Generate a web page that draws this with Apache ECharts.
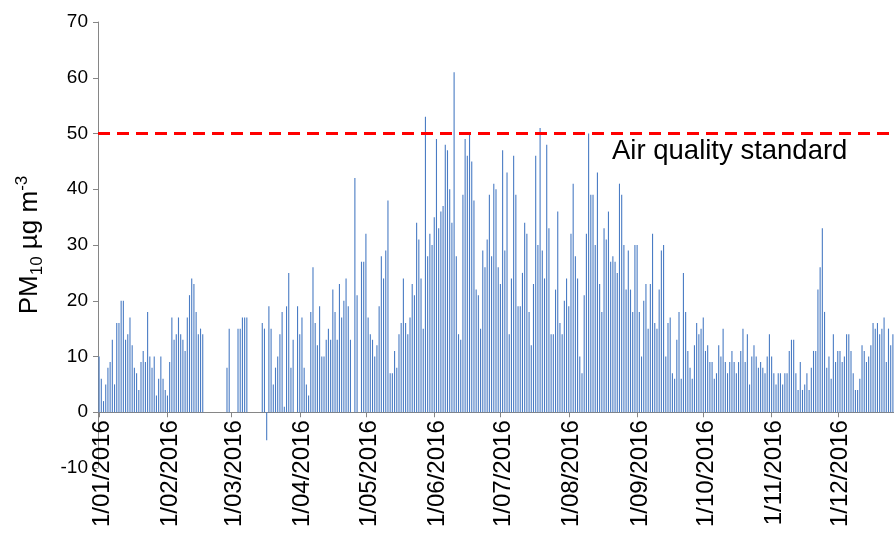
<!DOCTYPE html>
<html>
<head>
<meta charset="utf-8">
<script src="https://cdn.jsdelivr.net/npm/echarts@6/dist/echarts.min.js"></script>
<style>
  html, body { margin: 0; padding: 0; background: #fff; }
  #main { width: 894px; height: 534px; }
</style>
</head>
<body>
<div id="main"></div>
<script>
// daily PM10 (ug/m3), 2016, null = no data
var jan = [10, 6, 2, 5, 8, 9, 13, 5, 16, 16, 20, 20, 13, 14, 17, 12, 8, 7, 4, 9, 11, 9, 18, 10, 8, 10, 3, 6, 10, 6, 4];
var feb = [3, 9, 17, 13, 14, 17, 14, 13, 11, 17, 21, 24, 23, 18, 14, 15, 14,
  null, null, null, null, null, null, null, null, null, null, 8, 15];
var mar = [null, null, null, 15, 15, 17, 17, 17, null, null, null, null, null, null,
  16, 15, -5, 19, 15, 5, 8, 10, 14, 18, 1, 19, 25, 8, 13, null, 19];
var apr = [14, 17, 8, 5, 3, 18, 26, 16, 12, 19, 10, 10, 13, 15, 13, 22, 18, 13, 23, 17,
  20, 24, 19, 13, null, 42, 21, null, 27, 27];
var may = [32, 17, 14, 13, 10, 12, 19, 28, 24, 29, 38, 7, 7, 11, 8, 14, 16, 24, 16, 14,
  17, 23, 21, 34, 31, 24, 15, 53, 28, 32, 30];
var jun = [35, 49, 33, 36, 37, 48, 47, 40, 34, 61, 28, 14, 13, 39, 49, 46, 50, 45, 38, 22,
  21, 15, 29, 26, 31, 39, 28, 41, 40, 26];
var jul = [23, 47, 29, 43, 14, 24, 46, 39, 19, 19, 25, 34, 32, 18, 12, 23, 46, 30, 51, 29,
  24, 48, 33, 14, 14, 22, 36, 16, 14, 20, 24];
var aug = [19, 32, 41, 28, 24, 10, 7, 21, 32, 50, 39, 39, 30, 43, 23, 18, 33, 31, 36, 27,
  28, 27, 25, 41, 39, 30, 22, 29, 22, 18, 30];
var sep = [30, 18, 10, 20, 23, 15, 23, 32, 16, 15, 22, 29, 30, 10, 16, 17, 7, 6, 13, 18,
  6, 25, 18, 11, 8, 6, 12, 16, 14, 15];
var oct = [17, 11, 12, 9, 9, 6, 7, 12, 10, 15, 9, 7, 9, 11, 9, 7, 9, 11, 15, 9,
  14, 5, 10, 12, 10, 8, 9, 8, 7, 10, 14];
var nov = [10, 7, 5, 7, 7, 5, 7, 7, 11, 13, 13, 7, 4, 9, 4, 5, 7, 4, 8, 11,
  11, 22, 26, 33, 18, 8, 10, 6, 14, 9];
// December is cut off at the right edge of the picture
var dec = [11, 11, 9, 10, 14, 14, 11, 7, 4, 4, 6, 12, 11, 9, 10, 12, 16, 15, 16, 14,
  15, 17, 9, 15, 12, 14];

var months = [jan, feb, mar, apr, may, jun, jul, aug, sep, oct, nov, dec];
var monthLabels = ['1/01/2016', '1/02/2016', '1/03/2016', '1/04/2016', '1/05/2016', '1/06/2016',
  '1/07/2016', '1/08/2016', '1/09/2016', '1/10/2016', '1/11/2016', '1/12/2016'];
var yTicks = [-10, 0, 10, 20, 30, 40, 50, 60, 70];
var standard = 50;

var days = [];
var values = [];
months.forEach(function (m, mi) {
  var mm = (mi + 1 < 10 ? '0' : '') + (mi + 1);
  m.forEach(function (v, di) {
    days.push((di + 1) + '/' + mm + '/2016');
    values.push(v);
  });
});

var isMonthStart = function (index, value) {
  return monthLabels.indexOf(value) >= 0;
};

var font = '"Liberation Sans", Arial, sans-serif';
var chart = echarts.init(document.getElementById('main'));
chart.setOption({
  animation: false,
  grid: {left: 98, right: 0, top: 22, bottom: 66, containLabel: false, outerBoundsMode: 'none'},
  xAxis: {
    type: 'category',
    data: days,
    offset: 0,
    axisLine: {onZero: false, lineStyle: {color: '#868686', width: 1}},
    axisTick: {show: true, alignWithLabel: true, interval: isMonthStart, length: 5,
      lineStyle: {color: '#868686'}},
    // rotated labels sit a little left of the tick otherwise
    axisLabel: {interval: isMonthStart, rotate: 90, color: '#000', fontSize: 24,
      fontFamily: font, margin: 8, verticalAlign: 'top', lineHeight: 6},
    splitLine: {show: false}
  },
  yAxis: {
    type: 'value',
    min: yTicks[0],
    max: yTicks[yTicks.length - 1],
    interval: 10,
    name: '{m|PM}{sub|10}{m| µg m}{sup|-3}',
    nameLocation: 'middle',
    nameRotate: 90,
    nameGap: 52,
    nameTextStyle: {
      rich: {
        m: {fontSize: 26, fontFamily: font, color: '#000', lineHeight: 32},
        sub: {fontSize: 17, fontFamily: font, color: '#000', verticalAlign: 'bottom', lineHeight: 17},
        sup: {fontSize: 17, fontFamily: font, color: '#000', verticalAlign: 'top', lineHeight: 17}
      }
    },
    axisLine: {show: true, lineStyle: {color: '#868686', width: 1}},
    axisTick: {show: true, length: 5, lineStyle: {color: '#868686'}},
    axisLabel: {color: '#000', fontSize: 19, fontFamily: font, margin: 10},
    splitLine: {show: false}
  },
  series: [{
    type: 'bar',
    data: values,
    barWidth: '50%',
    itemStyle: {color: '#4a7cc4'},
    markLine: {
      silent: true,
      symbol: 'none',
      label: {show: false},
      lineStyle: {color: '#ff0000', width: 3, type: [12, 7]},
      data: [{yAxis: standard}]
    }
  }],
  graphic: [{
    type: 'text',
    left: 612,
    top: 137,
    style: {text: 'Air quality standard', fontSize: 27.5, fontFamily: font, fill: '#000'}
  }]
});

// move the whole x axis (line, ticks, labels) up to the zero line
var zeroPx = chart.convertToPixel({yAxisIndex: 0}, 0);
var bottomPx = chart.convertToPixel({yAxisIndex: 0}, yTicks[0]);
chart.setOption({xAxis: {offset: zeroPx - bottomPx}});
</script>
</body>
</html>
